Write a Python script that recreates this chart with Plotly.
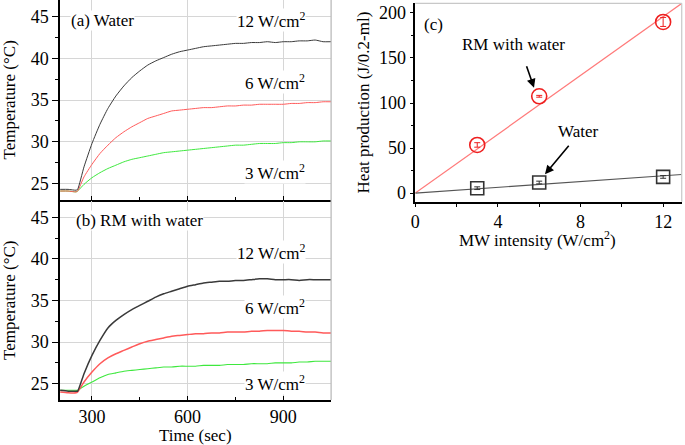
import numpy as np
import plotly.graph_objects as go

# ---------------- data ----------------
time_s = [200, 225, 250, 255, 275, 300, 325, 350, 375, 400, 425, 450, 475, 500, 525, 550, 575, 600,
          625, 650, 675, 700, 725, 750, 775, 800, 825, 850, 875, 900, 925, 950, 975, 1000, 1025, 1050]

water_12 = [24.3, 24.3, 24.2, 24.3, 27.0, 29.8, 32.1, 34.0, 35.5, 36.7, 37.7, 38.5, 39.2, 39.7, 40.1, 40.5, 40.8, 41.0,
            41.2, 41.4, 41.5, 41.6, 41.7, 41.8, 41.8, 41.9, 41.9, 42.0, 41.9, 42.0, 42.0, 42.1, 42.1, 42.2, 42.0, 42.0]
water_6 = [24.1, 24.1, 24.0, 24.1, 25.8, 27.3, 28.6, 29.6, 30.5, 31.2, 31.8, 32.3, 32.8, 33.1, 33.4, 33.7, 33.8, 33.9,
           34.0, 34.1, 34.1, 34.2, 34.3, 34.3, 34.4, 34.4, 34.5, 34.5, 34.5, 34.5, 34.6, 34.6, 34.7, 34.7, 34.8, 34.8]
water_3 = [24.1, 24.1, 24.0, 24.1, 24.9, 25.7, 26.3, 26.8, 27.2, 27.6, 27.9, 28.1, 28.3, 28.5, 28.7, 28.8, 28.9, 29.0,
           29.1, 29.2, 29.3, 29.4, 29.5, 29.6, 29.6, 29.7, 29.8, 29.8, 29.8, 29.9, 29.9, 30.0, 30.0, 30.0, 30.1, 30.1]

rm_12 = [24.2, 24.1, 24.1, 24.1, 26.2, 28.4, 30.2, 31.7, 32.6, 33.3, 33.9, 34.4, 34.9, 35.4, 35.8, 36.1, 36.4, 36.7,
         36.9, 37.1, 37.2, 37.3, 37.3, 37.4, 37.4, 37.5, 37.6, 37.6, 37.5, 37.5, 37.5, 37.4, 37.5, 37.5, 37.5, 37.5]
rm_6 = [24.0, 23.9, 23.9, 24.0, 25.2, 26.4, 27.4, 28.1, 28.6, 29.0, 29.4, 29.8, 30.1, 30.3, 30.5, 30.7, 30.8, 30.9,
        31.0, 31.0, 31.1, 31.1, 31.2, 31.2, 31.2, 31.3, 31.3, 31.4, 31.4, 31.4, 31.3, 31.3, 31.2, 31.2, 31.1, 31.1]
rm_3 = [24.2, 24.2, 24.2, 24.2, 24.7, 25.2, 25.7, 26.1, 26.3, 26.5, 26.6, 26.7, 26.8, 26.9, 27.0, 27.0, 27.1, 27.1,
        27.1, 27.2, 27.2, 27.2, 27.3, 27.3, 27.3, 27.4, 27.4, 27.4, 27.5, 27.5, 27.5, 27.6, 27.6, 27.7, 27.7, 27.7]

intensity = [3, 6, 12]
heat_rm = [53.5, 107.5, 190.0]
heat_rm_err = [2.5, 1.0, 5.0]
heat_water = [5.5, 11.8, 18.0]
heat_water_err = [1.5, 1.5, 1.5]

x_ticks_time = [300, 600, 900]
y_ticks_temp = [25, 30, 35, 40, 45]
x_ticks_mw = [0, 4, 8, 12]
y_ticks_heat = [0, 50, 100, 150, 200]

# ---------------- style ----------------
FONT = "Liberation Serif"
BLACK = "#3a3a3a"
RED = "#ff5a5a"
GREEN = "#3ee83e"
GRID = "#d6d6d6"

W, H = 685, 445
def px_x(p):
    return p / W
def px_y(p):
    return 1 - p / H

fig = go.Figure()

def add_curves(xa, ya, s12, s6, s3, w):
    for vals, col, lw in [(s3, GREEN, w[2]), (s6, RED, w[1]), (s12, BLACK, w[0])]:
        fig.add_trace(go.Scatter(x=time_s, y=vals, mode="lines", xaxis=xa, yaxis=ya,
                                 line=dict(color=col, width=lw, shape="spline", smoothing=0.5),
                                 showlegend=False, hoverinfo="skip"))

add_curves("x", "y", water_12, water_6, water_3, (1.0, 1.0, 1.0))
add_curves("x2", "y2", rm_12, rm_6, rm_3, (1.5, 1.5, 1.1))

# panel (c)
xmax_c = 12.9
xi = np.array(intensity, dtype=float)
slope_rm = float(np.sum(xi * np.array(heat_rm)) / np.sum(xi ** 2))
slope_w = float(np.sum(xi * np.array(heat_water)) / np.sum(xi ** 2))
fit_x = np.array([0.0, xmax_c])

fig.add_trace(go.Scatter(x=fit_x, y=slope_rm * fit_x, mode="lines", xaxis="x3", yaxis="y3",
                         line=dict(color="#ff7a7a", width=1.2), showlegend=False, hoverinfo="skip"))
fig.add_trace(go.Scatter(x=fit_x, y=slope_w * fit_x, mode="lines", xaxis="x3", yaxis="y3",
                         line=dict(color="#555555", width=1.2), showlegend=False, hoverinfo="skip"))
fig.add_trace(go.Scatter(x=intensity, y=heat_rm, mode="markers", xaxis="x3", yaxis="y3",
                         marker=dict(symbol="circle-open", size=15, color="#ee2020", line=dict(width=1.6)),
                         error_y=dict(type="data", array=heat_rm_err, color="#ee2020", thickness=1, width=3),
                         showlegend=False, hoverinfo="skip"))
fig.add_trace(go.Scatter(x=intensity, y=heat_water, mode="markers", xaxis="x3", yaxis="y3",
                         marker=dict(symbol="square-open", size=13, color="#333333", line=dict(width=1.6)),
                         error_y=dict(type="data", array=heat_water_err, color="#333333", thickness=1, width=3),
                         showlegend=False, hoverinfo="skip"))

tick_font = dict(family=FONT, size=18, color="black")
title_font = dict(family=FONT, size=17, color="black")

def time_axis(domain_y_anchor, show_labels):
    return dict(domain=[px_x(55.5), px_x(328.5)], range=[200, 1050], anchor=domain_y_anchor,
                tickvals=x_ticks_time, ticks="inside", ticklen=4, tickcolor="black", tickwidth=1,
                minor=dict(tickvals=[450, 750], ticks="inside", ticklen=3, tickcolor="black"),
                showgrid=True, gridcolor=GRID, gridwidth=1, zeroline=False,
                showline=True, linecolor="black", linewidth=1.5,
                showticklabels=show_labels, tickfont=tick_font)

def temp_axis(anchor, dom, title):
    return dict(domain=dom, range=[23.05, 47], anchor=anchor,
                tickvals=y_ticks_temp, ticks="outside", ticklen=6, tickcolor="black", tickwidth=1,
                minor=dict(dtick=2.5, tick0=25, ticks="outside", ticklen=3, tickcolor="black"),
                showgrid=True, gridcolor=GRID, gridwidth=1, zeroline=False,
                showline=True, linecolor="black", linewidth=1.5,
                tickfont=tick_font, title=dict(text=title, font=title_font, standoff=11))

fig.update_layout(
    width=W, height=H, margin=dict(l=0, r=0, t=0, b=0),
    paper_bgcolor="white", plot_bgcolor="white",
    font=dict(family=FONT, color="black"),
    xaxis=time_axis("y", False),
    yaxis=temp_axis("x", [px_y(200.7), 1.0], "Temperature (°C)"),
    xaxis2=time_axis("y2", True),
    yaxis2=temp_axis("x2", [px_y(401.7), px_y(201.5)], "Temperature (°C)"),
    xaxis3=dict(domain=[px_x(413.3), px_x(681.7)], range=[0, xmax_c], anchor="y3",
                tickvals=x_ticks_mw, ticks="outside", ticklen=3, tickcolor="black",
                minor=dict(tickvals=[2, 6, 10], ticks="outside", ticklen=3, tickcolor="black"),
                showgrid=False, zeroline=False, showline=True, linecolor="black", linewidth=1.5,
                tickfont=tick_font),
    yaxis3=dict(domain=[px_y(202.7), px_y(3.3)], range=[-9.6, 210.7], anchor="x3",
                tickvals=y_ticks_heat, ticks="outside", ticklen=4, tickcolor="black",
                minor=dict(dtick=25, tick0=0, ticks="outside", ticklen=3, tickcolor="black"),
                showgrid=False, zeroline=False, showline=True, linecolor="black", linewidth=1.5,
                tickfont=tick_font,
                title=dict(text="Heat production (J/0.2-ml)", font=title_font, standoff=5)),
)

# x-axis titles placed as paper annotations (tight vertical spacing as in the reference)
fig.add_annotation(text="Time (sec)", x=px_x(192), y=px_y(437.5), xref="paper", yref="paper",
                   xanchor="center", yanchor="middle", showarrow=False, font=title_font)
fig.add_annotation(text="MW intensity (W/cm<sup>2</sup>)", x=px_x(536), y=px_y(240), xref="paper", yref="paper",
                   xanchor="center", yanchor="middle", showarrow=False, font=title_font)

# frame lines (right edges / top of panel c)
fig.add_shape(type="line", xref="x domain", yref="paper", x0=1, x1=1, y0=px_y(401.7), y1=1,
              line=dict(color="#b5b5b5", width=1.2))
fig.add_shape(type="line", xref="x3 domain", yref="y3 domain", x0=1, x1=1, y0=0, y1=1,
              line=dict(color="#c8c8c8", width=1.2))
fig.add_shape(type="line", xref="x3 domain", yref="y3 domain", x0=0, x1=1, y0=1, y1=1,
              line=dict(color="#c8c8c8", width=1.2))

ann_font = dict(family=FONT, size=17, color="black")
def label(text, x, y, xref, yref, xanchor):
    fig.add_annotation(text=text, x=x, y=y, xref=xref, yref=yref, xanchor=xanchor, yanchor="middle",
                       showarrow=False, font=ann_font, bgcolor="white", borderpad=0)

label("(a) Water", 231, 44.6, "x", "y", "left")
label("12 W/cm<sup>2</sup>", 972, 44.6, "x", "y", "right")
label("6 W/cm<sup>2</sup>", 972, 37.2, "x", "y", "right")
label("3 W/cm<sup>2</sup>", 972, 26.35, "x", "y", "right")

label("(b) RM with water", 246, 44.6, "x2", "y2", "left")
label("12 W/cm<sup>2</sup>", 972, 40.8, "x2", "y2", "right")
label("6 W/cm<sup>2</sup>", 972, 34.2, "x2", "y2", "right")
label("3 W/cm<sup>2</sup>", 972, 25.1, "x2", "y2", "right")

fig.add_annotation(text="(c)", x=0.9, y=186.7, xref="x3", yref="y3", showarrow=False, font=ann_font)
fig.add_annotation(text="RM with water", x=4.75, y=164.6, xref="x3", yref="y3", showarrow=False, font=ann_font)
fig.add_annotation(text="Water", x=7.9, y=68.5, xref="x3", yref="y3", showarrow=False, font=ann_font)
fig.add_annotation(text="", x=5.75, y=117, xref="x3", yref="y3", ax=-8, ay=-23, showarrow=True,
                   arrowhead=2, arrowsize=1.1, arrowwidth=1.6, arrowcolor="black")
fig.add_annotation(text="", x=6.28, y=21, xref="x3", yref="y3", ax=25, ay=-30, showarrow=True,
                   arrowhead=2, arrowsize=1.1, arrowwidth=1.6, arrowcolor="black")

fig.write_html("out.html", config={"displayModeBar": False},
               post_script="document.body.style.margin='0';document.body.style.overflow='hidden';")
